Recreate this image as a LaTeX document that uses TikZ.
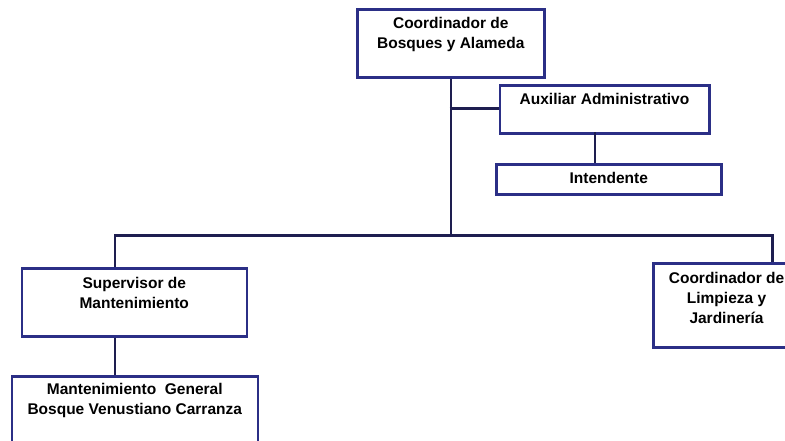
\documentclass[tikz,border=0pt]{standalone}
\usepackage{fontspec}
\setmainfont{Liberation Sans}
\definecolor{boxc}{HTML}{2B2F86}
\definecolor{linec}{HTML}{1E1E50}
\begin{document}
\begin{tikzpicture}[x=1pt,y=-1pt,
  orgbox/.style={draw=boxc, line width=2.5pt, fill=white, rectangle, anchor=north west, inner sep=0pt},
  txt/.style={font=\bfseries\fontsize{15.5}{19.8}\selectfont, align=center, inner sep=0pt, text=black, anchor=north, yshift=-9.5pt},
  conn/.style={draw=linec, line width=2.5pt}]
\useasboundingbox (0,0) rectangle (785,440);
\clip (0,0) rectangle (785,440);
% boxes
\node[orgbox, minimum width=187pt, minimum height=68pt,
  label={[txt]north:{Coordinador de\\Bosques y Alameda}}] (top) at (356,8) {};
\node[orgbox, minimum width=209.5pt, minimum height=48pt,
  label={[txt]north:{Auxiliar Administrativo}}] (aux) at (498.5,84) {};
\node[orgbox, minimum width=225pt, minimum height=30pt,
  label={[txt]north:{Intendente}}] (int) at (495,163) {};
\node[orgbox, minimum width=225pt, minimum height=67.7pt,
  label={[txt]north:{Supervisor de\\Mantenimiento}}] (sup) at (20.5,267.3) {};
\node[orgbox, minimum width=246pt, minimum height=90pt,
  label={[txt,yshift=1pt]north:{Mantenimiento\ \ General\\Bosque Venustiano Carranza}}] (man) at (10.5,375) {};
\node[orgbox, minimum width=146pt, minimum height=84pt,
  label={[txt,yshift=-0.5pt]north:{Coordinador de\\Limpieza y\\Jardinería}}] (lim) at (652.3,262.3) {};
% connectors
\coordinate (br) at (449.5,108.3);
\coordinate (ai) at (595,132);
\coordinate (busL) at (114.8,235.7);
\coordinate (busR) at (772.3,235.7);
\draw[conn] (top.south) -- (top.south |- busL);
\draw[conn] (br) -- (br -| aux.west);
\draw[conn] (ai) -- (ai |- int.north);
\draw[conn] (busL |- sup.north) -- (busL) -- (busR) -- (busR |- lim.north);
\draw[conn] (busL |- sup.south) -- (busL |- man.north);
\end{tikzpicture}
\end{document}
